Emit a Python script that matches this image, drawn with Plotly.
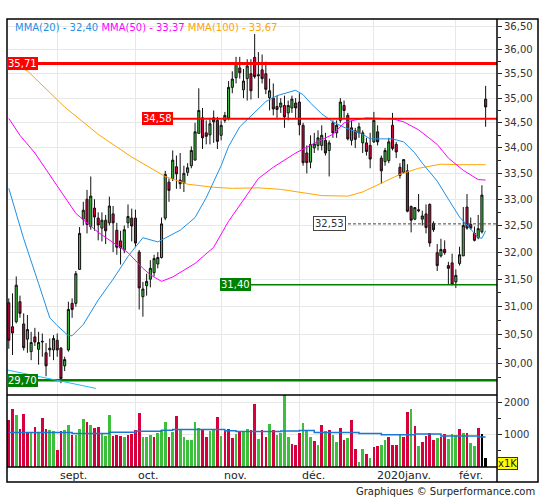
import math
import pandas as pd
import plotly.graph_objects as go

# ---------------- data ----------------
START, END = "2019-08-14", "2020-02-13"
HOLIDAYS = ["2019-12-25", "2019-12-26", "2020-01-01"]

opens = [31.07, 30.64, 30.73, 31.09, 30.69, 30.42, 30.20, 30.46, 30.24, 30.37,
         30.18, 30.23, 30.23, 30.40, 30.26, 29.95, 30.23, 31.06, 31.06, 31.68,
         32.62, 33.00, 32.48, 32.83, 32.64, 32.45, 32.60, 32.55, 32.72, 32.41,
         32.21, 32.04, 32.55, 32.64, 32.64, 32.00, 31.18, 31.38, 31.50, 31.62,
         31.78, 31.90, 32.64, 33.33, 33.40, 33.63, 33.37, 33.31, 33.52, 33.65,
         33.76, 34.29, 34.60, 34.30, 34.26, 34.60, 34.55, 34.25, 34.55, 34.60,
         35.22, 35.42, 35.62, 35.17, 35.40, 35.50, 35.84, 35.48, 35.58, 35.50,
         35.01, 35.00, 34.83, 34.82, 34.85, 34.70, 34.80, 34.90, 34.92, 34.45,
         33.90, 33.72, 34.00, 34.05, 34.05, 34.15, 33.95, 34.50, 34.30, 34.55,
         34.85, 34.65, 34.15, 34.34, 34.30, 34.10, 34.10, 34.05, 34.12, 34.32,
         33.80, 33.73, 33.75, 34.45, 34.07, 33.62, 33.52, 33.55, 32.86, 32.62,
         32.80, 32.62, 32.72, 32.90, 32.54, 31.99, 31.93, 32.05, 31.75, 31.80,
         31.45, 31.79, 31.93, 32.85, 32.52, 32.35, 32.27, 32.38, 34.98]
highs = [31.15, 31.24, 31.55, 31.20, 30.88, 30.85, 30.55, 30.62, 30.55, 30.52,
         30.35, 30.43, 30.49, 30.52, 30.28, 30.11, 31.09, 31.15, 31.65, 32.47,
         32.95, 33.18, 33.44, 33.00, 32.75, 32.75, 32.70, 33.05, 32.87, 32.55,
         32.40, 32.50, 32.90, 32.82, 32.80, 32.04, 31.45, 31.60, 31.85, 31.95,
         32.00, 32.65, 33.55, 33.40, 33.95, 33.85, 33.90, 33.65, 33.70, 34.03,
         34.50, 35.20, 34.80, 34.55, 34.60, 34.75, 34.62, 34.55, 34.72, 35.35,
         35.55, 35.85, 35.85, 35.60, 35.80, 35.80, 36.33, 35.95, 35.90, 35.75,
         35.40, 35.30, 35.05, 35.00, 35.05, 34.95, 35.05, 35.00, 35.10, 34.50,
         34.05, 34.25, 34.30, 34.35, 34.45, 34.30, 34.15, 34.55, 34.55, 35.00,
         34.95, 34.70, 34.55, 34.40, 34.50, 34.35, 34.20, 34.30, 34.72, 34.45,
         33.85, 34.00, 34.20, 34.70, 34.12, 33.70, 33.78, 33.68, 32.88, 32.85,
         33.10, 32.78, 32.90, 32.92, 32.58, 32.15, 32.25, 32.22, 31.82, 31.97,
         31.68, 32.10, 32.85, 33.10, 32.65, 32.48, 32.70, 33.27, 35.25]
lows = [30.25, 30.14, 30.70, 30.80, 30.22, 30.18, 30.05, 30.30, 29.97, 30.11,
        29.77, 30.11, 30.05, 30.11, 29.65, 29.86, 30.20, 30.80, 31.00, 31.68,
        32.50, 32.35, 32.42, 32.40, 32.22, 32.20, 32.15, 32.50, 32.00, 31.95,
        31.77, 31.98, 32.45, 32.20, 32.10, 30.95, 30.82, 31.20, 31.35, 31.55,
        31.70, 31.88, 32.60, 32.95, 33.35, 33.20, 33.20, 33.14, 33.45, 33.60,
        33.76, 34.29, 33.98, 34.07, 34.07, 34.10, 33.98, 34.15, 34.50, 34.55,
        35.10, 35.30, 35.40, 35.00, 34.95, 34.97, 35.40, 35.00, 35.30, 35.08,
        34.75, 34.65, 34.60, 34.70, 34.40, 34.55, 34.70, 34.60, 34.25, 33.65,
        33.50, 33.60, 33.90, 33.95, 33.95, 33.85, 33.44, 34.20, 34.20, 34.50,
        34.60, 34.15, 34.05, 34.00, 34.20, 33.90, 33.85, 33.60, 34.10, 34.05,
        33.30, 33.65, 33.70, 33.95, 33.80, 33.40, 33.50, 32.75, 32.37, 32.60,
        32.75, 32.50, 32.35, 32.10, 32.38, 31.65, 31.90, 31.95, 31.40, 31.40,
        31.34, 31.75, 31.93, 32.42, 32.42, 32.20, 32.24, 32.35, 34.42]
closes = [30.40, 30.53, 31.39, 30.88, 30.27, 30.59, 30.36, 30.37, 30.36, 30.38,
          29.95, 30.26, 30.43, 30.23, 29.73, 30.06, 30.95, 30.95, 31.60, 32.35,
          32.79, 32.52, 33.06, 32.66, 32.51, 32.60, 32.40, 32.87, 32.55, 32.09,
          32.08, 32.42, 32.67, 32.49, 32.17, 31.34, 31.32, 31.46, 31.70, 31.88,
          31.90, 32.53, 33.48, 33.17, 33.76, 33.49, 33.30, 33.50, 33.61, 33.95,
          34.32, 34.75, 34.20, 34.23, 34.48, 34.52, 34.13, 34.45, 34.65, 35.22,
          35.39, 35.72, 35.52, 35.35, 35.66, 35.15, 35.44, 35.46, 35.40, 35.18,
          35.15, 34.78, 34.77, 34.90, 34.62, 34.85, 34.98, 34.80, 34.46, 33.71,
          33.71, 34.07, 34.08, 34.20, 34.25, 33.90, 34.10, 34.30, 34.45, 34.92,
          34.75, 34.18, 34.40, 34.17, 34.42, 34.30, 33.93, 33.78, 34.55, 34.12,
          33.55, 33.95, 34.12, 33.99, 33.92, 33.46, 33.77, 32.77, 32.60, 32.84,
          32.78, 32.68, 32.46, 32.17, 32.42, 31.75, 32.05, 31.99, 31.70, 31.40,
          31.57, 31.95, 32.50, 32.45, 32.45, 32.22, 32.44, 33.08, 34.82]

volumes = [1450, 1800, 1610, 1170, 1640, 1060, 1090, 1230, 1060, 1520,
           1190, 1140, 1110, 520, 1110, 1160, 1300, 995, 995, 1170,
           1480, 1390, 1300, 1220, 1230, 1060, 950, 1610, 950, 995,
           960, 920, 990, 1030, 1140, 1670, 920, 920, 990, 920,
           1060, 1160, 1390, 920, 1090, 1580, 1170, 920, 850, 830,
           1390, 1200, 1170, 920, 1120, 1170, 1550, 950, 1120, 1170,
           890, 1030, 1090, 1120, 1170, 1140, 1950, 860, 1140, 920,
           1330, 1140, 995, 1060, 2300, 920, 700, 670, 1060, 1360,
           1140, 920, 800, 670, 1310, 1110, 1140, 990, 770, 1200,
           830, 890, 1450, 550, 170, 550, 390, 280, 610, 640,
           670, 830, 920, 670, 670, 990, 930, 1700, 1800, 1270,
           640, 770, 950, 1050, 830, 890, 920, 1030, 860, 1030,
           990, 1170, 1050, 1050, 740, 640, 1200, 1020, 270]
vol_dir = list("rrgrrrgrgrrggrrggrgggrgrrgggrrrgrrrrgggrgggrgrggggggrrggrgrrrgrggrrgrrgrg"
               "gggrrrgggrgrgrggrrgrrggrgrrggrrrgrrgrgrrrrgrrgggrgrggr")

ma20_idx = [0, 4, 8, 11, 13, 16, 17, 20, 24, 28, 32, 36, 40, 46, 50, 53, 57, 59, 62, 65,
            69, 72, 75, 77, 79, 81, 84, 87, 90, 95, 97, 103, 106, 109, 111, 115, 118,
            121, 124, 126, 127, 128]
ma20_val = [33.21, 32.25, 31.42, 30.80, 30.66, 30.48, 30.48, 30.68, 31.12, 31.50, 31.92,
            32.27, 32.19, 32.41, 32.65, 33.03, 33.65, 34.03, 34.42, 34.64, 34.93, 35.05,
            35.12, 35.16, 35.07, 34.90, 34.68, 34.52, 34.41, 34.27, 34.18, 34.18, 34.12,
            33.90, 33.70, 33.35, 33.00, 32.66, 32.43, 32.27, 32.26, 32.40]
ma50_idx = [0, 3, 7, 11, 13, 18, 24, 32, 36, 38, 41, 44, 50, 55, 59, 63, 67, 71, 77, 82,
            87, 90, 93, 96, 103, 106, 110, 115, 118, 122, 126, 128]
ma50_val = [34.59, 34.25, 33.90, 33.47, 33.24, 32.73, 32.37, 31.99, 31.70, 31.58, 31.46,
            31.54, 31.79, 32.09, 32.58, 32.99, 33.40, 33.62, 33.90, 34.09, 34.27, 34.50,
            34.56, 34.60, 34.58, 34.52, 34.36, 34.07, 33.80, 33.56, 33.38, 33.37]
ma100_idx = [0, 5, 15, 22, 24, 33, 42, 48, 55, 60, 67, 73, 78, 84, 91, 95, 100, 105, 110,
             116, 121, 128]
ma100_val = [35.72, 35.56, 34.82, 34.40, 34.27, 33.82, 33.44, 33.29, 33.23, 33.21, 33.22,
             33.19, 33.14, 33.07, 33.06, 33.14, 33.31, 33.48, 33.60, 33.68, 33.67, 33.67]
vma_idx = [0, 17, 27, 34, 41, 44, 58, 61, 73, 78, 82, 94, 100, 109, 116, 126, 128]
vma_val = [1070, 1040, 1075, 1110, 1140, 1160, 1120, 1100, 1115, 1130, 1070, 1040, 1000,
           1020, 960, 930, 930]

month_labels = ["sept.", "oct.", "nov.", "déc.", "2020janv.", "févr."]
price_ticks = [30.0, 30.5, 31.0, 31.5, 32.0, 32.5, 33.0, 33.5, 34.0, 34.5, 35.0, 35.5, 36.0, 36.5]
price_minor = [29.75, 30.25, 30.75, 31.25, 31.75, 32.25, 32.75, 33.25, 33.75, 34.25, 34.75,
               35.25, 35.75, 36.25]
vol_ticks = [1000, 2000]
vol_minor = [500, 1500]

resist_hi, resist_lo = 35.71, 34.58
support_hi, support_lo = 31.40, 29.70
last_ref = 32.53
trend_val = [29.88, 29.56]
legend_vals = ["32,40", "33,37", "33,67"]

# ---------------- style ----------------
W, H = 545, 500
L, R, T, B = 7, 497, 19, 467
VOL_TOP = 395
FONT = "DejaVu Sans"
GREEN, RED = "#3cbf3c", "#d6003c"
C20, C50, C100 = "#1f8fe6", "#ff00ff", "#ffa500"
GRID = "#e8e8e8"

dates = [d for d in pd.bdate_range(START, END) if d.strftime("%Y-%m-%d") not in HOLIDAYS]
x = list(range(len(dates)))
month_idx = [i for i in range(1, len(dates)) if dates[i].month != dates[i - 1].month]
XR = [-0.48, 131.05]

def px_x(p):
    return (p - L) / (R - L)

def px_y(p):
    return (B - p) / (B - T)

def fmt(v):
    return f"{v:.2f}".replace(".", ",")

def idx_at(p):
    return XR[0] + (p - L) / (R - L) * (XR[1] - XR[0])

vdom = px_y(VOL_TOP)
fig = go.Figure()

fig.add_trace(go.Scatter(x=ma100_idx, y=ma100_val, mode="lines", line=dict(color=C100, width=1), yaxis="y", hoverinfo="skip"))
fig.add_trace(go.Scatter(x=ma50_idx, y=ma50_val, mode="lines", line=dict(color=C50, width=1), yaxis="y", hoverinfo="skip"))
fig.add_trace(go.Scatter(x=ma20_idx, y=ma20_val, mode="lines", line=dict(color=C20, width=1), yaxis="y", hoverinfo="skip"))

fig.add_trace(go.Candlestick(
    x=x, open=opens, high=highs, low=lows, close=closes, yaxis="y",
    increasing=dict(line=dict(color="#111", width=1), fillcolor=GREEN),
    decreasing=dict(line=dict(color="#111", width=1), fillcolor=RED),
    whiskerwidth=0, hoverinfo="skip"))

fig.add_trace(go.Bar(x=x, y=volumes, yaxis="y2", width=0.72,
                     marker=dict(color=[GREEN if c == "g" else RED for c in vol_dir], line=dict(width=0)),
                     hoverinfo="skip"))
fig.add_trace(go.Scatter(x=vma_idx, y=vma_val, mode="lines", line=dict(color="#1a78d0", width=1.5, shape="hv"),
                         yaxis="y2", hoverinfo="skip"))

def hline(v, x0, x1, color, width, dash=None):
    fig.add_trace(go.Scatter(x=[x0, x1], y=[v, v], mode="lines", yaxis="y",
                             line=dict(color=color, width=width, dash=dash), hoverinfo="skip"))

hline(resist_hi, XR[0], XR[1], "#ff0000", 3)
hline(resist_lo, idx_at(142), XR[1], "#ff0000", 2)
hline(support_lo, XR[0], XR[1], "#008000", 2.5)
hline(support_hi, idx_at(220), XR[1], "#008000", 1.5)
hline(last_ref, idx_at(343), XR[1], "#444444", 1, dash="3px,2px")
fig.add_trace(go.Scatter(x=[XR[0], idx_at(96)], y=trend_val, mode="lines", yaxis="y",
                         line=dict(color="#1ec0f0", width=1), hoverinfo="skip"))

ann = []
def label(v, pxl, bg, fg="white", border=None):
    ann.append(dict(x=px_x(pxl), xref="paper", xanchor="left", y=math.log10(v), yref="y", yanchor="middle",
                    text=fmt(v), showarrow=False, bgcolor=bg, borderpad=1,
                    bordercolor=border or bg, borderwidth=1 if border else 0,
                    font=dict(family=FONT, size=10, color=fg)))

label(resist_hi, 7, "#ff0000")
label(resist_lo, 142, "#ff0000")
label(support_hi, 220, "#008000")
label(support_lo, 7, "#008000")
label(last_ref, 313, "white", fg="#333", border="#444")

leg = (f"<span style='color:{C20}'>MMA(20) - {legend_vals[0]}</span> "
       f"<span style='color:{C50}'>MMA(50) - {legend_vals[1]}</span> "
       f"<span style='color:{C100}'>MMA(100) - {legend_vals[2]}</span>")
ann.append(dict(x=px_x(13), xref="paper", xanchor="left", y=px_y(27), yref="paper", yanchor="middle",
                text=leg, showarrow=False, font=dict(family=FONT, size=10)))

for i, t in zip(month_idx, month_labels):
    ann.append(dict(x=i, xref="x", xanchor="left", xshift=1, y=px_y(475), yref="paper", yanchor="middle",
                    text=t, showarrow=False, font=dict(family=FONT, size=11, color="#222")))

ann.append(dict(x=px_x(507), xref="paper", xanchor="center", y=px_y(463), yref="paper", yanchor="middle",
                text="x1K", showarrow=False, bgcolor="#ffff00", bordercolor="#333", borderwidth=1, borderpad=0,
                font=dict(family=FONT, size=10, color="#222")))
ann.append(dict(x=px_x(537), xref="paper", xanchor="right", y=px_y(491), yref="paper", yanchor="middle",
                text="Graphiques © Surperformance.com", showarrow=False,
                font=dict(family=FONT, size=10, color="#222")))

shapes = [
    dict(type="rect", xref="paper", yref="paper", x0=0, x1=px_x(538), y0=px_y(482), y1=1,
         line=dict(color="black", width=1.5)),
    dict(type="line", xref="paper", yref="paper", x0=1, x1=1, y0=px_y(482), y1=1,
         line=dict(color="black", width=1.5)),
    dict(type="line", xref="paper", yref="paper", x0=0, x1=1, y0=vdom, y1=vdom,
         line=dict(color="black", width=1.5)),
    dict(type="line", xref="paper", yref="paper", x0=0, x1=1, y0=0, y1=0,
         line=dict(color="black", width=1.5)),
]

fig.update_layout(
    width=W, height=H, margin=dict(l=L, r=W - R, t=T, b=H - B),
    paper_bgcolor="white", plot_bgcolor="white", showlegend=False,
    boxgap=0.3, boxgroupgap=0.2, bargap=0,
    annotations=ann, shapes=shapes, hovermode=False,
    xaxis=dict(range=XR, anchor="y2", tickvals=month_idx, showticklabels=False, ticks="",
               showgrid=True, gridcolor=GRID, gridwidth=1, zeroline=False, showline=False,
               rangeslider=dict(visible=False)),
    yaxis=dict(type="log", domain=[vdom, 1], anchor="x", side="right",
               range=[math.log10(29.447), math.log10(36.649)],
               tickvals=price_ticks, ticktext=[fmt(v) for v in price_ticks],
               ticks="outside", ticklen=4, tickcolor="#222", tickwidth=1,
               minor=dict(tickvals=price_minor, ticks="outside", ticklen=3, tickcolor="#222", showgrid=False),
               showgrid=True, gridcolor=GRID, zeroline=False, showline=False,
               tickfont=dict(family=FONT, size=10, color="#333")),
    yaxis2=dict(domain=[0, vdom], anchor="x", side="right", range=[0, 2228],
                tickvals=vol_ticks, ticktext=[str(v) for v in vol_ticks],
                ticks="outside", ticklen=4, tickcolor="#222", tickwidth=1,
                minor=dict(tickvals=vol_minor, ticks="outside", ticklen=3, tickcolor="#222", showgrid=False),
                showgrid=True, gridcolor=GRID, zeroline=False, showline=False,
                tickfont=dict(family=FONT, size=10, color="#333")),
)

fig.write_html("out.html", config={"displayModeBar": False, "staticPlot": True},
               post_script="document.body.style.margin='0px';document.body.style.overflow='hidden';")
